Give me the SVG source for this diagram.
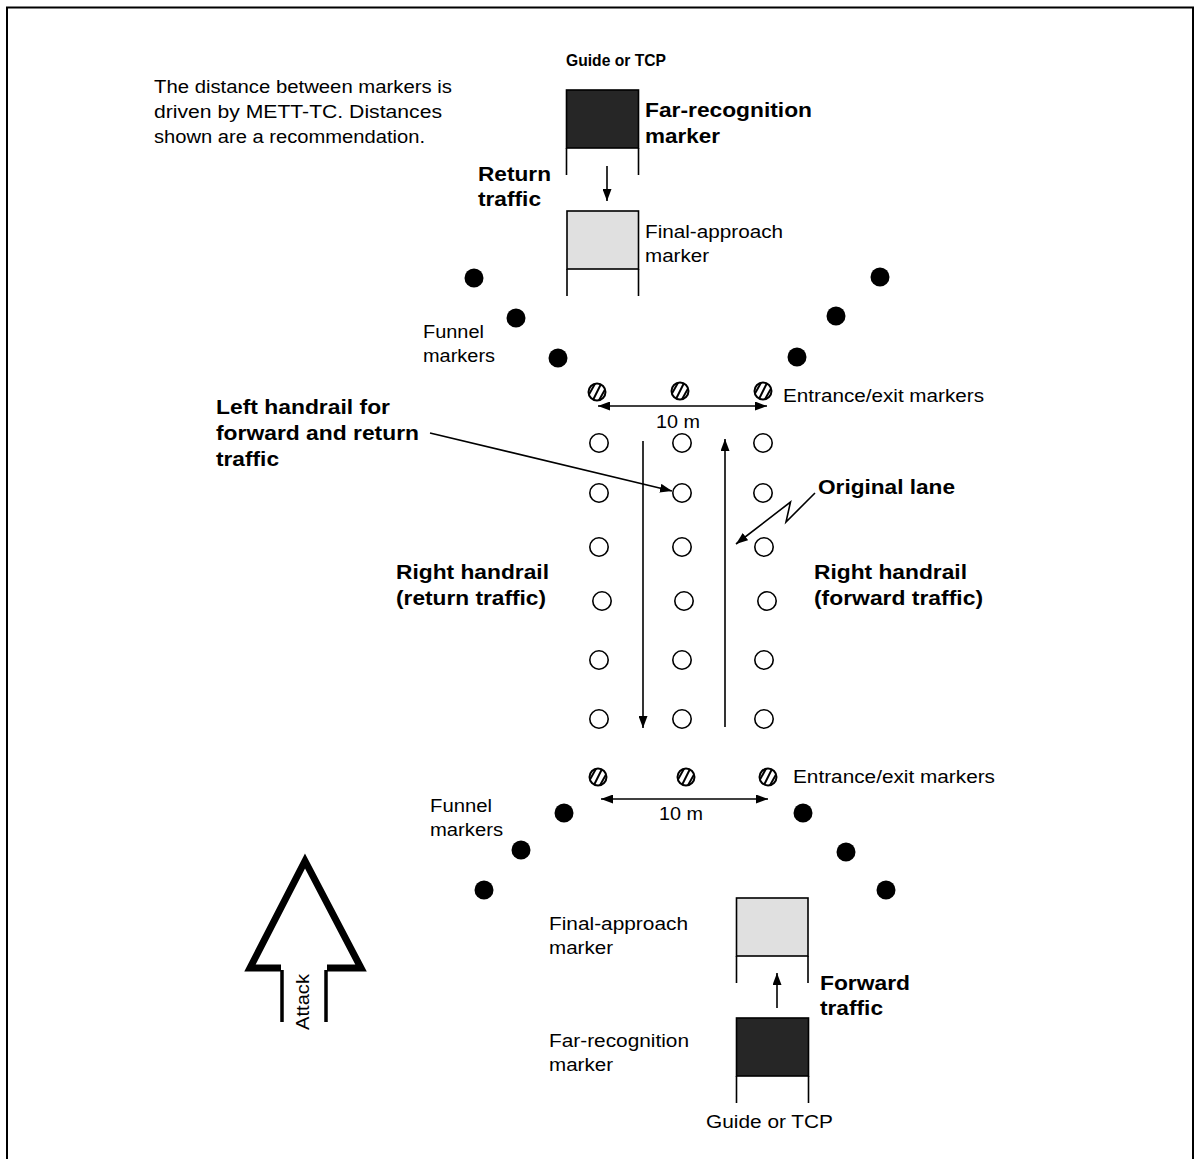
<svg xmlns="http://www.w3.org/2000/svg" xmlns:xlink="http://www.w3.org/1999/xlink" width="1201" height="1159" viewBox="0 0 1201 1159">
<style>
text{font-family:"Liberation Sans",Arial,sans-serif;fill:#000}
.r{font-size:17.5px}
.b{font-size:19.5px;font-weight:bold}
.ln{stroke:#000;stroke-width:1.6;fill:none}
.box{stroke:#000;stroke-width:1.6}
.dot{fill:#000}
.ring{fill:#fff;stroke:#000;stroke-width:1.6}
</style>
<defs>
<marker id="ah" viewBox="0 0 12 9" refX="12" refY="4.5" markerWidth="12" markerHeight="9" markerUnits="userSpaceOnUse" orient="auto-start-reverse">
<path d="M0,0 L12,4.5 L0,9 z" fill="#000"/>
</marker>
<clipPath id="hc"><circle cx="0" cy="0" r="8.5"/></clipPath>
<g id="hatch">
<circle cx="0" cy="0" r="8.5" fill="#fff"/>
<g clip-path="url(#hc)" stroke="#000" stroke-width="2">
<line x1="-10" y1="6" x2="-1" y2="-10"/>
<line x1="-5" y1="10" x2="5" y2="-10"/>
<line x1="1" y1="10" x2="10" y2="-6"/>
</g>
<circle cx="0" cy="0" r="8.5" fill="none" stroke="#000" stroke-width="2"/>
</g>
</defs>
<rect width="1201" height="1159" fill="#fff"/>
<path d="M7,1159 V7.5 H1193 V1159" fill="none" stroke="#000" stroke-width="2"/>

<g id="note">
<text class="r" x="154" y="93" textLength="298" lengthAdjust="spacingAndGlyphs">The distance between markers is</text>
<text class="r" x="154" y="118" textLength="288" lengthAdjust="spacingAndGlyphs">driven by METT-TC.  Distances</text>
<text class="r" x="154" y="143" textLength="271" lengthAdjust="spacingAndGlyphs">shown are a recommendation.</text>
</g>

<g id="top-guide">
<text x="566" y="66" style="font-size:16.5px;font-weight:bold" textLength="100" lengthAdjust="spacingAndGlyphs">Guide or TCP</text>
</g>
<g id="top-far-recognition">
<rect class="box" x="566.5" y="90" width="72" height="58" fill="#262626"/>
<path class="ln" d="M566.5,148 V175 M638.5,148 V175"/>
<text class="b" x="645" y="117" textLength="167" lengthAdjust="spacingAndGlyphs">Far-recognition</text>
<text class="b" x="645" y="143" textLength="75" lengthAdjust="spacingAndGlyphs">marker</text>
</g>
<g id="return-traffic">
<text class="b" x="478" y="181" textLength="73" lengthAdjust="spacingAndGlyphs">Return</text>
<text class="b" x="478" y="206" textLength="63" lengthAdjust="spacingAndGlyphs">traffic</text>
</g>
<g id="top-final-approach">
<rect class="box" x="567" y="211" width="71.5" height="58" fill="#e0e0e0"/>
<path class="ln" d="M567,269 V296 M638.5,269 V296"/>
<text class="r" x="645" y="238" textLength="138" lengthAdjust="spacingAndGlyphs">Final-approach</text>
<text class="r" x="645" y="262" textLength="64" lengthAdjust="spacingAndGlyphs">marker</text>
</g>

<g id="top-funnel">
<circle class="dot" cx="474" cy="278" r="9.5"/>
<circle class="dot" cx="516" cy="318" r="9.5"/>
<circle class="dot" cx="558" cy="358" r="9.5"/>
<circle class="dot" cx="880" cy="277" r="9.5"/>
<circle class="dot" cx="836" cy="316" r="9.5"/>
<circle class="dot" cx="797" cy="357" r="9.5"/>
<text class="r" x="423" y="338" textLength="61" lengthAdjust="spacingAndGlyphs">Funnel</text>
<text class="r" x="423" y="362" textLength="72" lengthAdjust="spacingAndGlyphs">markers</text>
</g>

<g id="top-entrance">
<use xlink:href="#hatch" href="#hatch" x="597" y="392"/>
<use xlink:href="#hatch" href="#hatch" x="680" y="391"/>
<use xlink:href="#hatch" href="#hatch" x="763" y="391"/>
<text class="r" x="783" y="402" textLength="201" lengthAdjust="spacingAndGlyphs">Entrance/exit markers</text>
<text class="r" x="656" y="428" textLength="44" lengthAdjust="spacingAndGlyphs">10 m</text>
</g>

<g id="lane-markers">
<circle class="ring" cx="599" cy="443" r="9.2"/><circle class="ring" cx="682" cy="443" r="9.2"/><circle class="ring" cx="763" cy="443" r="9.2"/>
<circle class="ring" cx="599" cy="493" r="9.2"/><circle class="ring" cx="682" cy="493" r="9.2"/><circle class="ring" cx="763" cy="493" r="9.2"/>
<circle class="ring" cx="599" cy="547" r="9.2"/><circle class="ring" cx="682" cy="547" r="9.2"/><circle class="ring" cx="764" cy="547" r="9.2"/>
<circle class="ring" cx="602" cy="601" r="9.2"/><circle class="ring" cx="684" cy="601" r="9.2"/><circle class="ring" cx="767" cy="601" r="9.2"/>
<circle class="ring" cx="599" cy="660" r="9.2"/><circle class="ring" cx="682" cy="660" r="9.2"/><circle class="ring" cx="764" cy="660" r="9.2"/>
<circle class="ring" cx="599" cy="719" r="9.2"/><circle class="ring" cx="682" cy="719" r="9.2"/><circle class="ring" cx="764" cy="719" r="9.2"/>
</g>

<g id="labels-lane">
<text class="b" x="216" y="414" textLength="174" lengthAdjust="spacingAndGlyphs">Left handrail for</text>
<text class="b" x="216" y="440" textLength="203" lengthAdjust="spacingAndGlyphs">forward and return</text>
<text class="b" x="216" y="466" textLength="63" lengthAdjust="spacingAndGlyphs">traffic</text>
<text class="b" x="818" y="494" textLength="137" lengthAdjust="spacingAndGlyphs">Original lane</text>
<text class="b" x="396" y="579" textLength="153" lengthAdjust="spacingAndGlyphs">Right handrail</text>
<text class="b" x="396" y="605" textLength="150" lengthAdjust="spacingAndGlyphs">(return traffic)</text>
<text class="b" x="814" y="579" textLength="153" lengthAdjust="spacingAndGlyphs">Right handrail</text>
<text class="b" x="814" y="605" textLength="169" lengthAdjust="spacingAndGlyphs">(forward traffic)</text>
</g>

<g id="bottom-entrance">
<use xlink:href="#hatch" href="#hatch" x="598" y="777"/>
<use xlink:href="#hatch" href="#hatch" x="686" y="777"/>
<use xlink:href="#hatch" href="#hatch" x="768" y="777"/>
<text class="r" x="793" y="783" textLength="202" lengthAdjust="spacingAndGlyphs">Entrance/exit markers</text>
<text class="r" x="659" y="820" textLength="44" lengthAdjust="spacingAndGlyphs">10 m</text>
</g>

<g id="bottom-funnel">
<circle class="dot" cx="564" cy="813" r="9.5"/>
<circle class="dot" cx="521" cy="850" r="9.5"/>
<circle class="dot" cx="484" cy="890" r="9.5"/>
<circle class="dot" cx="803" cy="813" r="9.5"/>
<circle class="dot" cx="846" cy="852" r="9.5"/>
<circle class="dot" cx="886" cy="890" r="9.5"/>
<text class="r" x="430" y="812" textLength="62" lengthAdjust="spacingAndGlyphs">Funnel</text>
<text class="r" x="430" y="836" textLength="73" lengthAdjust="spacingAndGlyphs">markers</text>
</g>

<g id="bottom-final-approach">
<rect class="box" x="736.5" y="898" width="71.5" height="58" fill="#e0e0e0"/>
<path class="ln" d="M736.5,956 V983 M808,956 V983"/>
<text class="r" x="549" y="930" textLength="139" lengthAdjust="spacingAndGlyphs">Final-approach</text>
<text class="r" x="549" y="954" textLength="64" lengthAdjust="spacingAndGlyphs">marker</text>
</g>
<g id="forward-traffic">
<text class="b" x="820" y="990" textLength="90" lengthAdjust="spacingAndGlyphs">Forward</text>
<text class="b" x="820" y="1015" textLength="63" lengthAdjust="spacingAndGlyphs">traffic</text>
</g>
<g id="bottom-far-recognition">
<rect class="box" x="736.5" y="1018" width="72" height="58" fill="#262626"/>
<path class="ln" d="M736.5,1076 V1103 M808.5,1076 V1103"/>
<text class="r" x="549" y="1047" textLength="140" lengthAdjust="spacingAndGlyphs">Far-recognition</text>
<text class="r" x="549" y="1071" textLength="64" lengthAdjust="spacingAndGlyphs">marker</text>
</g>
<g id="bottom-guide">
<text class="r" x="706" y="1128" textLength="127" lengthAdjust="spacingAndGlyphs">Guide or TCP</text>
</g>

<g id="attack">
<path d="M281,968 H250 L305,861 L361,968 H327" fill="none" stroke="#000" stroke-width="7" stroke-linejoin="miter" stroke-miterlimit="10"/>
<path d="M282,970 V1022 M326,970 V1022" stroke="#000" stroke-width="3.5" fill="none"/>
<text class="r" transform="translate(309,1030) rotate(-90)" x="0" y="0" textLength="56" lengthAdjust="spacingAndGlyphs">Attack</text>
</g>

<g id="connectors">
<line class="ln" x1="607" y1="166" x2="607" y2="201" marker-end="url(#ah)"/>
<line class="ln" x1="777" y1="1008" x2="777" y2="973" marker-end="url(#ah)"/>
<line class="ln" x1="598" y1="406" x2="767" y2="406" marker-start="url(#ah)" marker-end="url(#ah)"/>
<line class="ln" x1="601" y1="799" x2="768" y2="799" marker-start="url(#ah)" marker-end="url(#ah)"/>
<line class="ln" x1="643" y1="441" x2="643" y2="728" marker-end="url(#ah)"/>
<line class="ln" x1="725" y1="727" x2="725" y2="439" marker-end="url(#ah)"/>
<line class="ln" x1="430" y1="433" x2="672" y2="491" marker-end="url(#ah)"/>
<polyline class="ln" points="815,493 786,522 790.5,502 736,544" marker-end="url(#ah)"/>
</g>
</svg>
